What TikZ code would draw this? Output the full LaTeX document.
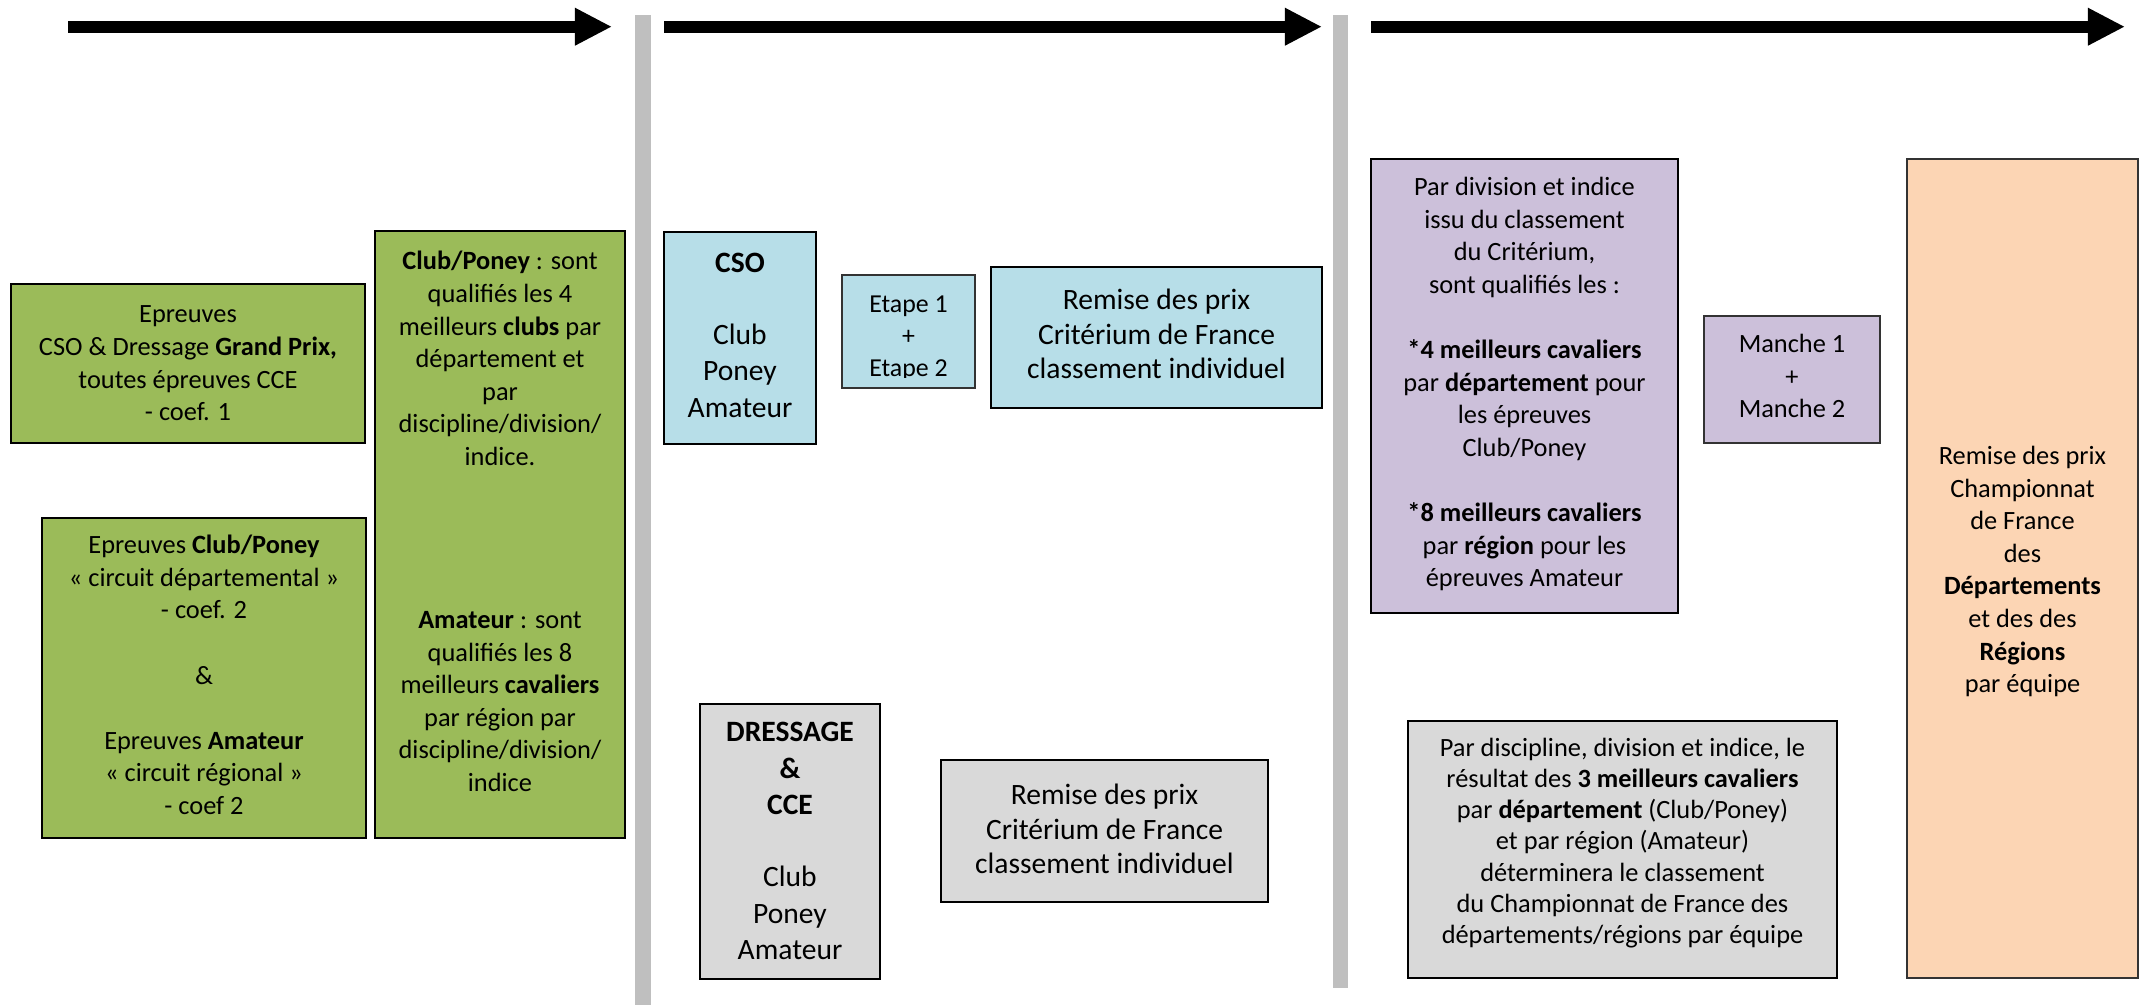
\documentclass[tikz,border=0pt]{standalone}
\usepackage{fontspec}
\setmainfont{Carlito}
\usetikzlibrary{arrows.meta}

\definecolor{vertcl}{HTML}{9BBB59}
\definecolor{bleucl}{HTML}{B7DEE8}
\definecolor{griscl}{HTML}{D9D9D9}
\definecolor{violetcl}{HTML}{CCC0DA}
\definecolor{orangecl}{HTML}{FCD5B4}
\definecolor{barrecl}{HTML}{BFBFBF}

\begin{document}
\begin{tikzpicture}[x=0.01cm,y=-0.01cm,
	fleche/.style={line width=0.12cm,-{Triangle[length=0.37cm,width=0.35cm]}},
	cadre/.style={draw,line width=0.017cm},
	fin/.style={draw=black!80,line width=0.011cm},
	txt/.style={align=center,inner sep=0pt,font=\fontsize{7.5}{9.27}\selectfont},
	grand/.style={txt,font=\fontsize{8.4}{10.3}\selectfont},
	remise/.style={txt,font=\fontsize{8.4}{9.9}\selectfont}]
	\useasboundingbox (0,0) rectangle (2150,1005);
	% frise
	\coordinate (d1) at (68,26.7);   \coordinate (f1) at (612,26.7);
	\coordinate (d2) at (664,26.7);  \coordinate (f2) at (1322,26.7);
	\coordinate (d3) at (1371,26.7); \coordinate (f3) at (2125,26.7);
	\draw[fleche] (d1) -- (f1);
	\draw[fleche] (d2) -- (f2);
	\draw[fleche] (d3) -- (f3);
	\fill[barrecl] (635,15) rectangle (651,1005);
	\fill[barrecl] (1333,15) rectangle (1348,988);

	% qualifications
	\draw[cadre,fill=vertcl] (11,284) rectangle (365,443);
	\node[txt] (grandprix) at (188,363.5) {Epreuves\\CSO \& Dressage \textbf{Grand Prix,}\\toutes épreuves CCE\\- coef. 1};
	\draw[cadre,fill=vertcl] (42,518) rectangle (366,838);
	\node[txt] (circuits) at (204,675) {Epreuves \textbf{Club/Poney}\\« circuit départemental »\\- coef. 2\\[9.27pt]\&\\[9.27pt]Epreuves \textbf{Amateur}\\« circuit régional »\\- coef 2};
	\draw[cadre,fill=vertcl] (375,231) rectangle (625,838);
	\node[txt] (qualif) at (500,521.5) {\textbf{Club/Poney} : sont\\qualifiés les 4\\meilleurs \textbf{clubs} par\\département et\\par\\discipline/division/\\indice.\\[37.08pt]\textbf{Amateur} : sont\\qualifiés les 8\\meilleurs \textbf{cavaliers}\\par région par\\discipline/division/\\indice};

	% criterium
	\draw[cadre,fill=bleucl] (664,232) rectangle (816,444);
	\node[grand] (cso) at (740,335) {\textbf{CSO}\\[10.3pt]Club\\Poney\\Amateur};
	\draw[fin,fill=bleucl] (842,275) rectangle (975,388);
	\begin{scope}
		\clip (842,275) rectangle (975,377);
		\node[txt,font=\fontsize{7.35}{9}\selectfont] (etapes) at (908.5,338.4) {Etape 1\\+\\Etape 2};
	\end{scope}
	\draw[cadre,fill=bleucl] (991,267) rectangle (1322,408);
	\node[remise] (prixcso) at (1156.5,334) {Remise des prix\\Critérium de France\\classement individuel};
	\draw[cadre,fill=griscl] (700,704) rectangle (880,979);
	\node[grand] (dressage) at (790,841) {\textbf{DRESSAGE}\\\textbf{\&}\\\textbf{CCE}\\[10.3pt]Club\\Poney\\Amateur};
	\draw[cadre,fill=griscl] (941,760) rectangle (1268,902);
	\node[remise] (prixdr) at (1104.5,829) {Remise des prix\\Critérium de France\\classement individuel};

	% championnat
	\draw[cadre,fill=violetcl] (1371,159) rectangle (1678,613);
	\node[txt] (selection) at (1524.5,384) {Par division et indice\\issu du classement\\du Critérium,\\sont qualifiés les :\\[9.27pt]\textbf{*4 meilleurs cavaliers}\\par \textbf{département} pour\\les épreuves\\Club/Poney\\[9.27pt]\textbf{*8 meilleurs cavaliers}\\par \textbf{région} pour les\\épreuves Amateur};
	\draw[fin,fill=violetcl] (1704,316) rectangle (1880,443);
	\node[txt] (manches) at (1792,376) {Manche 1\\+\\Manche 2};
	\draw[cadre,fill=griscl] (1408,721) rectangle (1837,978);
	\node[txt,font=\fontsize{7.5}{8.9}\selectfont] (equipes) at (1622.5,843) {Par discipline, division et indice, le\\résultat des \textbf{3 meilleurs cavaliers}\\par \textbf{département} (Club/Poney)\\et par région (Amateur)\\déterminera le classement\\du Championnat de France des\\départements/régions par équipe};
	\draw[fin,fill=orangecl] (1907,159) rectangle (2138,978);
	\node[txt] (prixcf) at (2022.5,571.5) {Remise des prix\\Championnat\\de France\\des\\\textbf{Départements}\\et des des\\\textbf{Régions}\\par équipe};
\end{tikzpicture}
\end{document}
